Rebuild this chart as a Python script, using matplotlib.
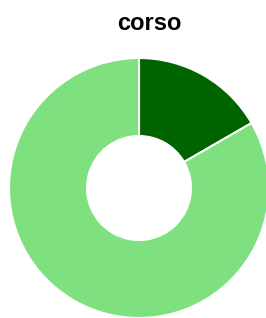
import matplotlib.pyplot as plt

# slice values (clockwise from top)
labels = ['A', 'B']
values = [1, 5]
colors = ['#006400', '#7FE07F']

fig = plt.figure(figsize=(2.66, 3.18), dpi=100)
ax = fig.add_axes([9 / 266, 0 / 318, 260 / 266, 260 / 318])

ax.pie(values, colors=colors, startangle=90, counterclock=False,
       wedgeprops=dict(width=0.6, edgecolor='white', linewidth=1.5))
ax.set_aspect('equal')
ax.set_xlim(-1, 1)
ax.set_ylim(-1, 1)

fig.text(149 / 266, 1 - 23 / 318, 'corso', ha='center', va='center', fontsize=17,
         fontweight='bold', family=['Liberation Sans', 'DejaVu Sans'])

fig.savefig('out.png', dpi=100)
